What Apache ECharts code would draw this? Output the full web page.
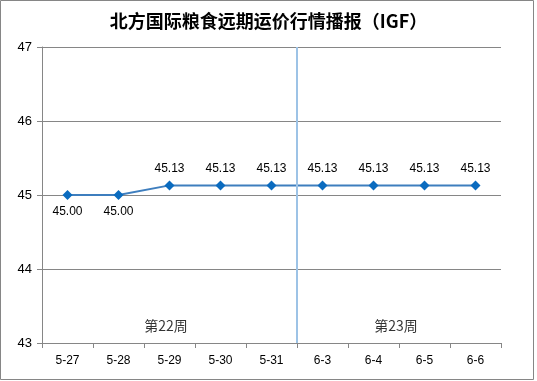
<!DOCTYPE html>
<html><head><meta charset="utf-8">
<script src="https://cdn.jsdelivr.net/npm/echarts@6/dist/echarts.min.js"></script>
<style>html,body{margin:0;padding:0;background:#fff}#c{width:537px;height:381px}</style>
</head><body><div id="c"></div>
<script>
const categories = ['5-27','5-28','5-29','5-30','5-31','6-3','6-4','6-5','6-6'];
const values = [45.00,45.00,45.13,45.13,45.13,45.13,45.13,45.13,45.13];
const weekLabels = ['第22周','第23周'];
const weekDivider = 5; // boundary between 5-31 and 6-3 (index count)
const yTicks = [43,44,45,46,47];

const chart = echarts.init(document.getElementById('c'));
const font = '"Liberation Sans", "DejaVu Sans", sans-serif';
chart.setOption({
  animation:false,
  title:{text:'北方国际粮食远期运价行情播报（IGF）',left:'center',top:7,
    textStyle:{fontFamily:'"Noto Sans CJK SC"',fontWeight:'bold',fontSize:18,color:'#000'}},
  grid:{left:42,right:36,top:47,bottom:38},
  xAxis:[{type:'category',data:categories,boundaryGap:true,
    axisLine:{lineStyle:{color:'#868686'}},
    axisTick:{show:true,length:5,lineStyle:{color:'#868686'}},
    axisLabel:{color:'#000',fontSize:12,fontFamily:font,margin:12}},
    {type:'value',min:0,max:categories.length,show:false}],
  yAxis:{type:'value',min:yTicks[0],max:yTicks[yTicks.length-1],interval:1,
    axisLine:{show:true,lineStyle:{color:'#868686'}},
    axisTick:{show:true,length:5,lineStyle:{color:'#868686'}},
    splitLine:{lineStyle:{color:'#868686'}},
    axisLabel:{color:'#000',fontSize:13,fontFamily:font,margin:10}},
  series:[{type:'line',data:values,symbol:'diamond',symbolSize:10,z:3,
    lineStyle:{color:'#3E7EBE',width:2},itemStyle:{color:'#0A6BBF'},
    label:{show:true,formatter:p=>p.value.toFixed(2),fontSize:12,fontFamily:font,color:'#000',
      position:'top',distance:6},
    data:values.map((v,i)=>({value:v,label:{position:v<45.1?'bottom':'top'}}))
  },{
    type:'scatter',xAxisIndex:1,symbolSize:0,z:2,
    label:{show:true,formatter:p=>p.data[2],position:'inside',fontSize:14,
      fontFamily:'"Noto Sans CJK SC"',color:'#000'},
    data:[[2.43,43.23,weekLabels[0]],[6.94,43.23,weekLabels[1]]],
    markLine:{symbol:'none',silent:true,label:{show:false},
      lineStyle:{color:'#9DC3E6',type:'solid',width:2},
      data:[[{coord:[weekDivider,yTicks[yTicks.length-1]]},{coord:[weekDivider,yTicks[0]]}]]}
  }],
  graphic:[{type:'rect',shape:{x:0.5,y:0.5,width:533,height:379},
    style:{fill:'none',stroke:'#868686',lineWidth:1},silent:true}]
});
</script></body></html>
